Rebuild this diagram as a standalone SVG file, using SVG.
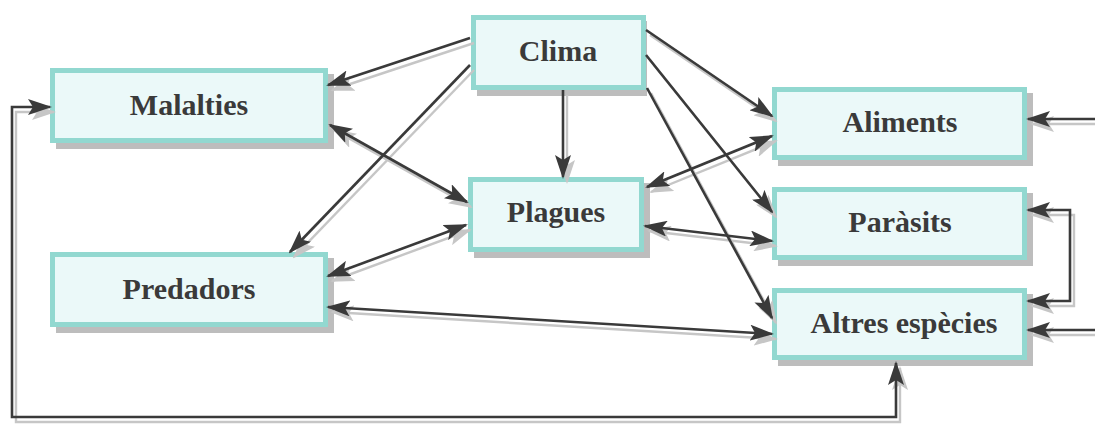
<svg xmlns="http://www.w3.org/2000/svg" width="1095" height="425" viewBox="0 0 1095 425">
<style>
.bg{fill:#ffffff}
.sh{fill:#bdbdbd}
.box{fill:#ebf9f9;stroke:#92d8d0;stroke-width:5}
.lbl{font-family:"Liberation Serif","Times New Roman",serif;font-weight:bold;font-size:30px;fill:#3a3a3a;text-anchor:middle}
.ln{fill:none;stroke:#3a3a3a;stroke-width:2.6}
.lns{fill:none;stroke:#c6c6c6;stroke-width:2.4}
.e{marker-end:url(#ah)}
.b{marker-start:url(#ah);marker-end:url(#ah)}
.es{marker-end:url(#ahs)}
.bs{marker-start:url(#ahs);marker-end:url(#ahs)}
</style>
<defs>
<marker id="ah" viewBox="0 0 24 16" refX="22" refY="8" markerWidth="24" markerHeight="16" markerUnits="userSpaceOnUse" orient="auto-start-reverse">
<path d="M0,0 L24,8 L0,16 L5,8 z" fill="#3a3a3a"/>
</marker>
<marker id="ahs" viewBox="0 0 24 16" refX="22" refY="8" markerWidth="24" markerHeight="16" markerUnits="userSpaceOnUse" orient="auto-start-reverse">
<path d="M0,0 L24,8 L0,16 L5,8 z" fill="#c6c6c6"/>
</marker>
</defs>
<rect class="bg" x="0" y="0" width="1095" height="425"/>

<g id="clima">
<rect class="sh" x="477" y="21" width="170" height="75"/>
<rect class="box" x="473.5" y="17.5" width="170" height="70"/>
<text class="lbl" x="558" y="61">Clima</text>
</g>
<g id="malalties">
<rect class="sh" x="56" y="74" width="278" height="75"/>
<rect class="box" x="52.5" y="70.5" width="273" height="70"/>
<text class="lbl" x="189" y="115">Malalties</text>
</g>
<g id="plagues">
<rect class="sh" x="474" y="183" width="176" height="75"/>
<rect class="box" x="470.5" y="179.5" width="171" height="70"/>
<text class="lbl" x="556" y="222">Plagues</text>
</g>
<g id="predadors">
<rect class="sh" x="56" y="258" width="278" height="75"/>
<rect class="box" x="52.5" y="254.5" width="273" height="70"/>
<text class="lbl" x="189" y="299">Predadors</text>
</g>
<g id="aliments">
<rect class="sh" x="778" y="93" width="255" height="73"/>
<rect class="box" x="774.5" y="89.5" width="250" height="68"/>
<text class="lbl" x="900" y="132">Aliments</text>
</g>
<g id="parasits">
<rect class="sh" x="778" y="193" width="255" height="73"/>
<rect class="box" x="774.5" y="189.5" width="250" height="68"/>
<text class="lbl" x="900" y="232">Paràsits</text>
</g>
<g id="altres">
<rect class="sh" x="778" y="294" width="255" height="72"/>
<rect class="box" x="774.5" y="290.5" width="250" height="67"/>
<text class="lbl" x="904" y="333">Altres espècies</text>
</g>

<g id="connectors">
<g transform="translate(4,5)">
<path class="lns es" d="M470,38 L328,85"/>
<path class="lns es" d="M470,65 L290,252"/>
<path class="lns bs" d="M330,125 L467,202"/>
<path class="lns bs" d="M328,276 L466,225"/>
<path class="lns bs" d="M328,307 L772,334"/>
<path class="lns es" d="M563,90 L563,177"/>
<path class="lns es" d="M646,30 L772,116"/>
<path class="lns es" d="M646,55 L772,212"/>
<path class="lns es" d="M647,88 L772,318"/>
<path class="lns bs" d="M647,187 L772,136"/>
<path class="lns bs" d="M645,226 L772,241"/>
<path class="lns es" d="M1095,119 L1028,119"/>
<path class="lns es" d="M1095,330 L1028,330"/>
<path class="lns bs" d="M1028,210 L1070,210 L1070,301 L1028,301"/>
<path class="lns bs" d="M896,363 L896,417 L12,417 L12,107 L50,107"/>
</g>
<path class="ln e" d="M470,38 L328,85"/>
<path class="ln e" d="M470,65 L290,252"/>
<path class="ln b" d="M330,125 L467,202"/>
<path class="ln b" d="M328,276 L466,225"/>
<path class="ln b" d="M328,307 L772,334"/>
<path class="ln e" d="M563,90 L563,177"/>
<path class="ln e" d="M646,30 L772,116"/>
<path class="ln e" d="M646,55 L772,212"/>
<path class="ln e" d="M647,88 L772,318"/>
<path class="ln b" d="M647,187 L772,136"/>
<path class="ln b" d="M645,226 L772,241"/>
<path class="ln e" d="M1095,119 L1028,119"/>
<path class="ln e" d="M1095,330 L1028,330"/>
<path class="ln b" d="M1028,210 L1070,210 L1070,301 L1028,301"/>
<path class="ln b" d="M896,363 L896,417 L12,417 L12,107 L50,107"/>
</g>
</svg>
